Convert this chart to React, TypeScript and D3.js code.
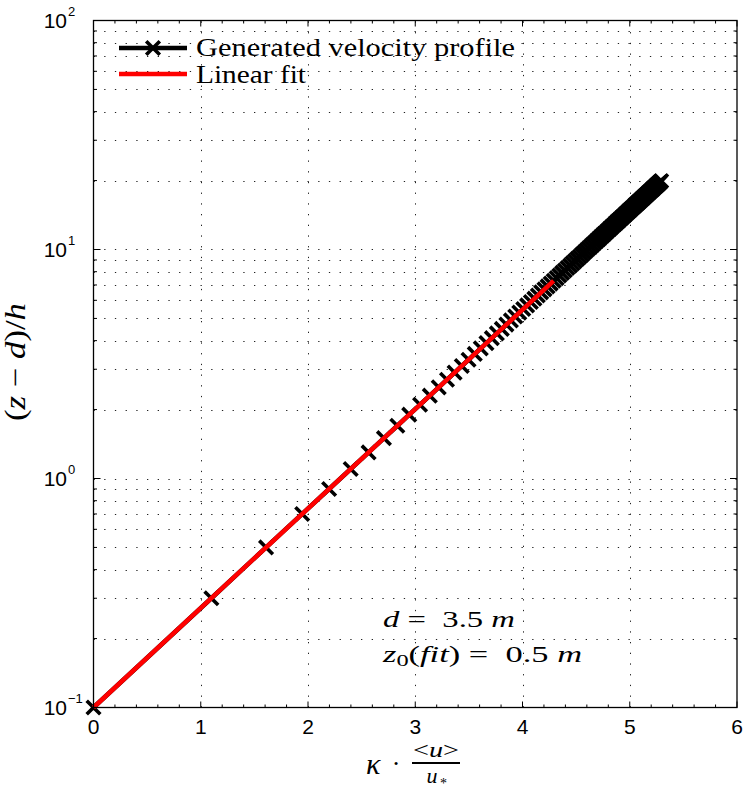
import React from "react";
import * as d3 from "d3";

const profileY = [0.1,0.3,0.5,0.7,0.9,1.1,1.3,1.5,1.7,1.9,2.1,2.3,2.5,2.7,2.9,3.1,3.3,3.5,3.7,3.9,4.1,4.3,4.5,4.7,4.9,5.1,5.3,5.5,5.7,5.9,6.1,6.3,6.5,6.7,6.9,7.1,7.3,7.5,7.7,7.9,8.1,8.3,8.5,8.7,8.9,9.1,9.3,9.5,9.7,9.9,10.1,10.3,10.5,10.7,10.9,11.1,11.3,11.5,11.7,11.9,12.1,12.3,12.5,12.7,12.9,13.1,13.3,13.5,13.7,13.9,14.1,14.3,14.5,14.7,14.9,15.1,15.3,15.5,15.7,15.9,16.1,16.3,16.5,16.7,16.9,17.1,17.3,17.5,17.7,17.9,18.1,18.3,18.5,18.7,18.9,19.1,19.3,19.5,19.7,19.9];
const profileX = [0,1.099,1.609,1.946,2.197,2.398,2.565,2.708,2.833,2.944,3.045,3.136,3.219,3.296,3.367,3.434,3.497,3.555,3.611,3.664,3.714,3.761,3.807,3.850,3.892,3.932,3.970,4.007,4.043,4.078,4.111,4.143,4.174,4.205,4.234,4.263,4.291,4.318,4.344,4.369,4.394,4.419,4.443,4.466,4.489,4.511,4.533,4.554,4.575,4.595,4.615,4.635,4.654,4.673,4.691,4.710,4.727,4.745,4.762,4.779,4.796,4.812,4.828,4.844,4.860,4.875,4.890,4.905,4.920,4.935,4.949,4.963,4.977,4.990,5.004,5.017,5.030,5.043,5.056,5.069,5.081,5.094,5.106,5.118,5.130,5.142,5.153,5.165,5.176,5.187,5.199,5.210,5.220,5.231,5.242,5.252,5.263,5.273,5.283,5.293];

const fitX = [0, 4.29];
const fitY = [0.1, 7.3];

const xTicks = [0, 1, 2, 3, 4, 5, 6];
const xGrid = [1, 2, 3, 4, 5];
const yDecades = [0.1, 1, 10, 100];
const yExponents = ["\u22121", "0", "1", "2"];

const W = 743, H = 791;
const L = 93.5, R = 737, T = 20.5, B = 707.5;

const SERIF = "'Liberation Serif', 'Times New Roman', serif";
const SANS = "'Liberation Sans', Arial, sans-serif";
const NB = "\u00A0";

export default function App() {
  const x = d3.scaleLinear().domain([0, 6]).range([L, R]);
  const y = d3.scaleLog().domain([0.1, 100]).range([B, T]);
  const line = d3.line<[number, number]>().x(d => x(d[0])).y(d => y(d[1]));

  const profile: [number, number][] = profileX.map((v, i) => [v, profileY[i]]);
  const fit: [number, number][] = fitX.map((v, i) => [v, fitY[i]]);

  const yMinor: number[] = [];
  [0.1, 1, 10].forEach(dec => { for (let m = 2; m <= 9; m++) yMinor.push(m * dec); });
  const yGridVals = [...yMinor, 1, 10];
  const xMinor = d3.range(0, 6.0001, 0.2).filter(v => Math.abs(v - Math.round(v)) > 1e-6);

  const s = 6.8;
  const markerPath = `M${-s},${-s}L${s},${s}M${-s},${s}L${s},${-s}`;
  const dash = "1.3 9.4";

  return (
    <svg width={W} height={H} style={{ position: "absolute", left: 0, top: 0, background: "#fff" }}>
      <rect x={0} y={0} width={W} height={H} fill="#fff" />
      {/* grid */}
      <g stroke="#222" strokeWidth={1} strokeDasharray={dash}>
        {yGridVals.map((v, i) => (
          <line key={"gy" + i} x1={L} x2={R} y1={Math.round(y(v)) + 0.5} y2={Math.round(y(v)) + 0.5} />
        ))}
        {xGrid.map((v, i) => (
          <line key={"gx" + i} x1={Math.round(x(v)) + 0.5} x2={Math.round(x(v)) + 0.5} y1={B} y2={T} />
        ))}
      </g>
      {/* ticks */}
      <g stroke="#000" strokeWidth={1}>
        {xTicks.map((v, i) => (
          <g key={"xt" + i}>
            <line x1={x(v)} x2={x(v)} y1={B} y2={B - 6} />
            <line x1={x(v)} x2={x(v)} y1={T} y2={T + 6} />
          </g>
        ))}
        {xMinor.map((v, i) => (
          <g key={"xm" + i}>
            <line x1={x(v)} x2={x(v)} y1={B} y2={B - 3} />
            <line x1={x(v)} x2={x(v)} y1={T} y2={T + 3} />
          </g>
        ))}
        {yDecades.map((v, i) => (
          <g key={"yt" + i}>
            <line x1={L} x2={L + 7} y1={y(v)} y2={y(v)} />
            <line x1={R} x2={R - 7} y1={y(v)} y2={y(v)} />
          </g>
        ))}
        {yMinor.map((v, i) => (
          <g key={"ym" + i}>
            <line x1={L} x2={L + 3.5} y1={y(v)} y2={y(v)} />
            <line x1={R} x2={R - 3.5} y1={y(v)} y2={y(v)} />
          </g>
        ))}
      </g>
      {/* generated profile */}
      <path d={line(profile) || ""} fill="none" stroke="#000" strokeWidth={4.5} strokeLinejoin="round" />
      <g stroke="#000" strokeWidth={3.6} fill="none">
        {profile.map((d, i) => (
          <path key={"mk" + i} d={markerPath} transform={`translate(${x(d[0])},${y(d[1])})`} />
        ))}
      </g>
      {/* linear fit */}
      <path d={line(fit) || ""} fill="none" stroke="#ff0000" strokeWidth={4.5} />
      {/* frame */}
      <rect x={L} y={T} width={R - L} height={B - T} fill="none" stroke="#000" strokeWidth={1.3} />
      {/* x tick labels */}
      <g fontFamily={SANS} fontSize={21} textAnchor="middle" fill="#000">
        {xTicks.map((v, i) => (
          <text key={"xl" + i} x={x(v)} y={B + 26}>{v}</text>
        ))}
      </g>
      {/* y tick labels */}
      <g fontFamily={SANS} fill="#000">
        {yDecades.map((v, i) => (
          <g key={"yl" + i}>
            <text x={67} y={y(v) + 7.5} fontSize={21} textAnchor="end">10</text>
            <text x={68} y={y(v) - 5} fontSize={13} textAnchor="start">{yExponents[i]}</text>
          </g>
        ))}
      </g>
      {/* y axis label */}
      <text transform="translate(25,362) rotate(-90)" fontFamily={SERIF} fontSize={29} textAnchor="middle"
        textLength={118} lengthAdjust="spacingAndGlyphs">
        <tspan>(</tspan><tspan fontStyle="italic">z</tspan><tspan>{NB}{"\u2212"}{NB}</tspan>
        <tspan fontStyle="italic">d</tspan><tspan>)/</tspan><tspan fontStyle="italic">h</tspan>
      </text>
      {/* x axis label */}
      <g fontFamily={SERIF} fill="#000">
        <text x={366} y={774} fontSize={30} fontStyle="italic">{"\u03BA"}</text>
        <text x={396} y={772} fontSize={26} textAnchor="middle">{"\u00B7"}</text>
        <text x={436} y={757} fontSize={22} textAnchor="middle" textLength={46} lengthAdjust="spacingAndGlyphs">
          <tspan>&lt;</tspan><tspan fontStyle="italic">u</tspan><tspan>&gt;</tspan>
        </text>
        <line x1={412} x2={460} y1={763} y2={763} stroke="#000" strokeWidth={1.8} />
        <text x={432} y={783} fontSize={22} textAnchor="middle" fontStyle="italic">u</text>
        <text x={440} y={788} fontSize={14}>*</text>
      </g>
      {/* annotations */}
      <g fontFamily={SERIF} fontSize={24} fill="#000">
        <text x={383} y={627} textLength={132} lengthAdjust="spacingAndGlyphs">
          <tspan fontStyle="italic">d</tspan><tspan>{NB}={NB}{NB}3.5{NB}</tspan><tspan fontStyle="italic">m</tspan>
        </text>
        <text x={383} y={662} textLength={199} lengthAdjust="spacingAndGlyphs">
          <tspan fontStyle="italic">z</tspan><tspan fontSize={17} dy={4}>0</tspan>
          <tspan dy={-4}>(</tspan><tspan fontStyle="italic">fit</tspan><tspan>){NB}={NB}{NB}0.5{NB}</tspan>
          <tspan fontStyle="italic">m</tspan>
        </text>
      </g>
      {/* legend */}
      <line x1={119} x2={187} y1={48} y2={48} stroke="#000" strokeWidth={4.5} />
      <path d={markerPath} transform="translate(153,48)" stroke="#000" strokeWidth={3.6} fill="none" />
      <line x1={119} x2={187} y1={74} y2={74} stroke="#ff0000" strokeWidth={4.5} />
      <g fontFamily={SERIF} fontSize={26} fill="#000">
        <text x={196} y={56} textLength={319} lengthAdjust="spacingAndGlyphs">Generated velocity profile</text>
        <text x={196} y={83} textLength={110} lengthAdjust="spacingAndGlyphs">Linear fit</text>
      </g>
    </svg>
  );
}
